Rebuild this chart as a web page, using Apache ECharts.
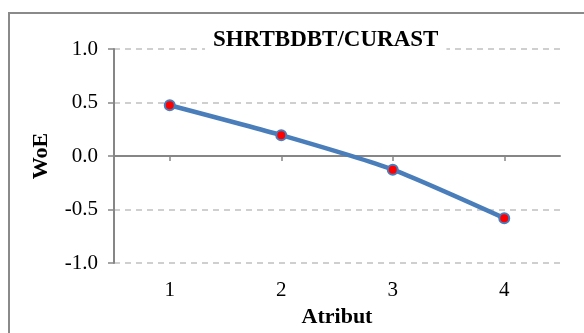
<!DOCTYPE html>
<html>
<head>
<meta charset="utf-8">
<script src="https://cdn.jsdelivr.net/npm/echarts@6/dist/echarts.min.js"></script>
<style>
html,body{margin:0;padding:0;background:#fff;overflow:hidden;}
#frame{position:absolute;left:8px;top:12px;width:700px;height:500px;border-left:2px solid #8a8a8a;border-top:2px solid #8a8a8a;}
#chart{position:absolute;left:0;top:0;width:584px;height:333px;}
</style>
</head>
<body>
<div id="frame"></div>
<div id="chart"></div>
<script>
var titleText = 'SHRTBDBT/CURAST';
var categories = ['1', '2', '3', '4'];
var woeValues = [0.475, 0.195, -0.127, -0.58];
var yTicks = [-1.0, -0.5, 0.0, 0.5, 1.0];
var xName = 'Atribut';
var yName = 'WoE';

var FONT = "'Liberation Serif', 'Times New Roman', serif";
var chart = echarts.init(document.getElementById('chart'), null, {renderer: 'canvas'});
var option = {
  backgroundColor: 'transparent',
  animation: false,
  title: {
    text: titleText,
    left: 205,
    top: 27,
    padding: [2, 8],
    backgroundColor: '#ffffff',
    textStyle: {fontFamily: FONT, fontWeight: 'bold', fontSize: 23, color: '#000'}
  },
  grid: {left: 114, right: 24, top: 49, bottom: 63, containLabel: false},
  xAxis: [{
    type: 'category',
    data: categories,
    boundaryGap: true,
    axisLine: {onZero: true, lineStyle: {color: '#868686', width: 2}},
    axisTick: {show: true, alignWithLabel: true, length: 5, lineStyle: {color: '#868686', width: 1.5}},
    axisLabel: {show: false},
    splitLine: {show: false}
  }, {
    type: 'category',
    data: categories,
    position: 'bottom',
    boundaryGap: true,
    axisLine: {show: false, onZero: false},
    axisTick: {show: false},
    axisLabel: {show: true, margin: 17, fontFamily: FONT, fontSize: 21, color: '#000'},
    splitLine: {show: false},
    name: xName,
    nameLocation: 'middle',
    nameGap: 40,
    nameTextStyle: {fontFamily: FONT, fontWeight: 'bold', fontSize: 22, color: '#000'}
  }],
  yAxis: {
    type: 'value',
    min: yTicks[0],
    max: yTicks[yTicks.length - 1],
    interval: 0.5,
    axisLine: {show: true, lineStyle: {color: '#868686', width: 2}},
    axisTick: {show: true, length: 6, lineStyle: {color: '#868686', width: 1.5}},
    axisLabel: {margin: 16, fontFamily: FONT, fontSize: 21, color: '#000',
      formatter: function (v) { return v.toFixed(1); }},
    splitLine: {show: true, lineStyle: {color: '#c0c0c0', width: 1.5, type: [6, 5]}},
    name: yName,
    nameLocation: 'middle',
    nameGap: 62,
    nameRotate: 90,
    nameTextStyle: {fontFamily: FONT, fontWeight: 'bold', fontSize: 22, color: '#000'}
  },
  series: [{
    type: 'line',
    xAxisIndex: 0,
    data: woeValues,
    smooth: 0.2,
    symbol: 'circle',
    symbolSize: 10,
    lineStyle: {color: '#4a7ebb', width: 4.5},
    itemStyle: {color: '#ff0000', borderColor: '#4a7ebb', borderWidth: 2},
    z: 5
  }]
};
chart.setOption(option);
</script>
</body>
</html>
